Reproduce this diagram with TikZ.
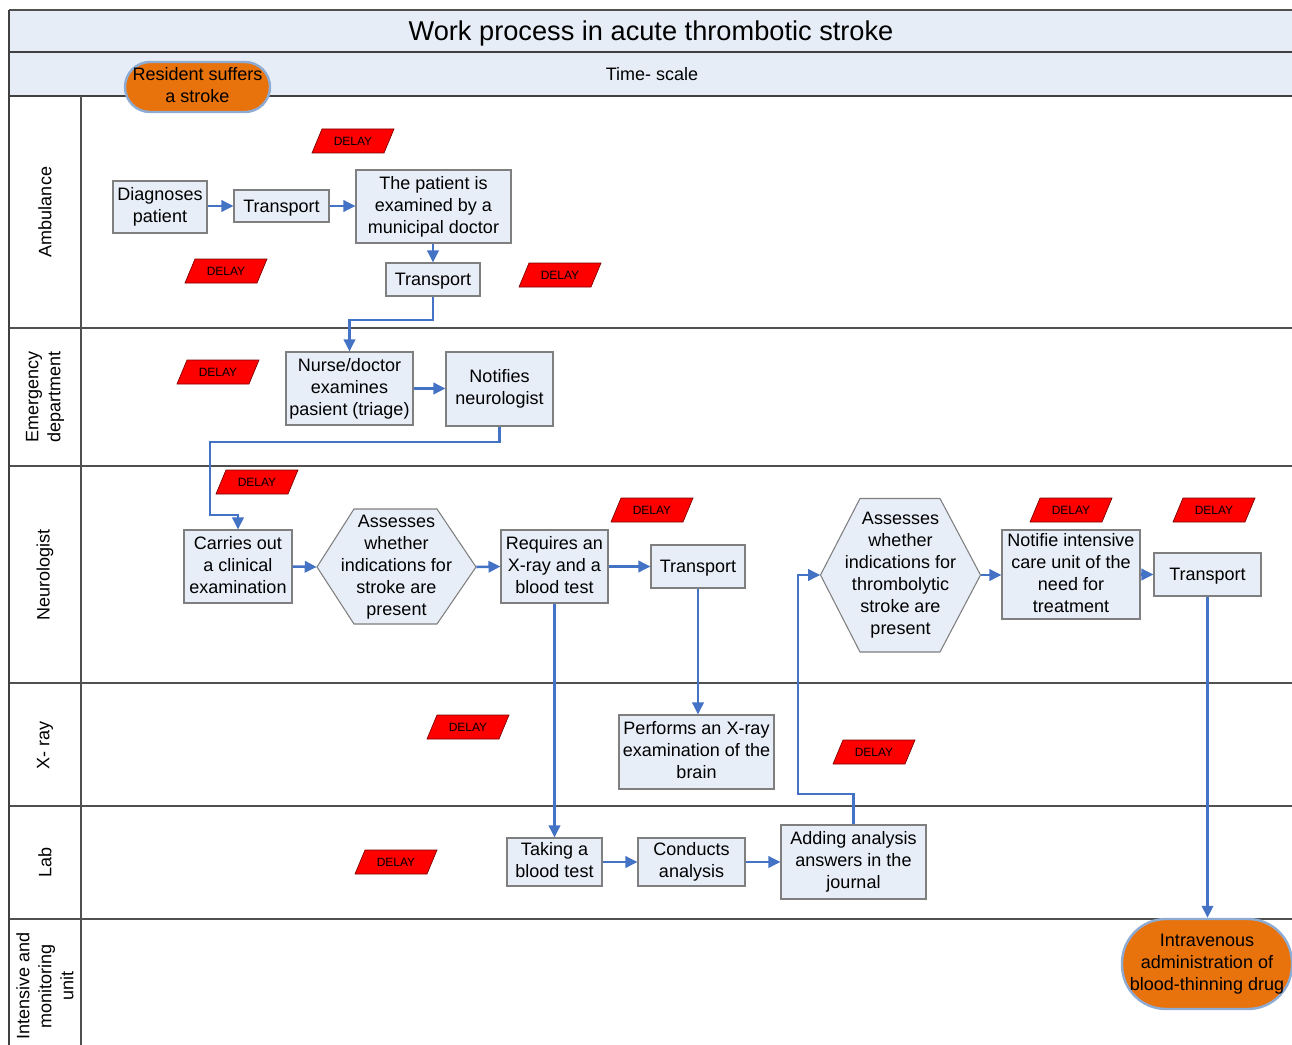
\documentclass[tikz,border=0pt]{standalone}
\usepackage{fontspec}
\setmainfont{Liberation Sans}
\usetikzlibrary{arrows.meta,calc}
\definecolor{bandfill}{HTML}{E7EDF7}
\definecolor{boxfill}{HTML}{E8EEF8}
\definecolor{boxline}{HTML}{7F7F7F}
\definecolor{flowblue}{HTML}{4472C4}
\definecolor{termorange}{HTML}{E8720C}
\definecolor{termline}{HTML}{8EACD3}
\definecolor{laneline}{HTML}{505050}
\definecolor{delayred}{HTML}{FF0000}
\definecolor{delayline}{HTML}{7A0000}
\newcommand{\topstrut}{\rule{0pt}{0.905em}}
\newcommand{\botstrut}{\rule[-0.212em]{0pt}{0.212em}}
\begin{document}
\begin{tikzpicture}[x=0.75pt,y=-0.75pt,
  txt/.style={font=\fontsize{13.5}{16.5}\selectfont, align=center,
    execute at begin node=\topstrut, execute at end node=\botstrut},
  box/.style={txt, draw=boxline, fill=boxfill, line width=0.8pt, inner sep=0pt},
  hexlbl/.style={txt, inner sep=0pt},
  hexshape/.style={draw=boxline, fill=boxfill, line width=0.8pt},
  term/.style={txt, draw=termline, fill=termorange, line width=1.8pt, inner sep=0pt},
  flow/.style={draw=flowblue, line width=1.9pt, -{Triangle[length=9pt,width=8.5pt]}},
  lane/.style={draw=laneline, line width=0.8pt},
  thick lane/.style={draw=laneline!80!black, line width=1.3pt},
  lanelbl/.style={font=\fontsize{13.5}{16.5}\selectfont, align=center, rotate=90},
  delayshape/.style={draw=delayline, fill=delayred, line width=0.5pt},
  delaytxt/.style={font=\fontsize{9}{10}\selectfont, inner sep=0pt},
  pics/delay/.style={code={
    \draw[delayshape] (-41,12) -- (31,12) -- (41,-12) -- (-31,-12) -- cycle;
    \node[delaytxt] (-lbl) at (0,0) {DELAY};
  }}
]
\useasboundingbox (0,0) rectangle (1292,1045);

% bands
\fill[bandfill] (9,10) rectangle (1292,96);
\draw[lane] (9,10) -- (1292,10);
\draw[thick lane] (9,52) -- (1292,52);
\draw[thick lane] (9,96) -- (1292,96);
\foreach \yy in {328,466,683,806,919} { \draw[lane] (9,\yy) -- (1292,\yy); }
\draw[thick lane] (9,10) -- (9,1045);
\draw[lane] (81,96) -- (81,1045);

\node[font=\fontsize{20.4}{24}\selectfont, execute at begin node=\topstrut, execute at end node=\botstrut] (title) at (651,31) {Work process in acute thrombotic stroke};
\node[txt] (timescale) at (652,74) {Time- scale};

% lane labels
\node[lanelbl] (lamb) at (45,212) {Ambulance};
\node[lanelbl] (led) at (45,397) {Emergency\\department};
\node[lanelbl] (lneu) at (45,575) {Neurologist};
\node[lanelbl] (lxr) at (45,745) {X- ray};
\node[lanelbl] (llab) at (45,862) {Lab};
\node[lanelbl] (licu) at (45,986) {Intensive and\\monitoring\\unit};

% terminals
\node[term, minimum width=108.75pt, minimum height=37.5pt, rounded corners=18.75pt] (start) at (197.5,87) {Resident suffers\\a stroke};
\node[term, minimum width=127.5pt, minimum height=67.5pt, rounded corners=33pt] (iv) at (1207,964) {Intravenous\\administration of\\blood-thinning drug};

% boxes
\node[box, minimum width=70.5pt, minimum height=39pt] (diag) at (160,207) {Diagnoses\\patient};
\node[box, minimum width=71.25pt, minimum height=24pt] (tr1) at (281.5,206) {Transport};
\node[box, minimum width=116.25pt, minimum height=54.75pt] (exam) at (433.5,206.5) {The patient is\\examined by a\\municipal doctor};
\node[box, minimum width=70.5pt, minimum height=24.75pt] (tr2) at (433,279.5) {Transport};
\node[box, minimum width=95.25pt, minimum height=54.75pt] (nurse) at (349.5,388.5) {Nurse/doctor\\examines\\pasient (triage)};
\node[box, minimum width=80.25pt, minimum height=55.5pt] (notif) at (499.5,389) {Notifies\\neurologist};
\node[box, minimum width=81pt, minimum height=54.75pt] (carr) at (238,566.5) {Carries out\\a clinical\\examination};
\node[box, minimum width=80.25pt, minimum height=54.75pt] (req) at (554.5,566.5) {Requires an\\X-ray and a\\blood test};
\node[box, minimum width=70.5pt, minimum height=32.25pt] (tr3) at (698,566.5) {Transport};
\node[box, minimum width=116.25pt, minimum height=55.5pt] (perf) at (696.5,752) {Performs an X-ray\\examination of the\\brain};
\node[box, minimum width=103.5pt, minimum height=66.75pt] (icu) at (1071,574.5) {Notifie intensive\\care unit of the\\need for\\treatment};
\node[box, minimum width=80.25pt, minimum height=32.25pt] (tr4) at (1207.5,574.5) {Transport};
\node[box, minimum width=71.25pt, minimum height=36pt] (take) at (554.5,862) {Taking a\\blood test};
\node[box, minimum width=80.25pt, minimum height=36pt] (cond) at (691.5,862) {Conducts\\analysis};
\node[box, minimum width=108.75pt, minimum height=55.5pt] (add) at (853.5,862) {Adding analysis\\answers in the\\journal};

% hexagons
\draw[hexshape] (317,567) -- (354,509) -- (437,509) -- (476,567) -- (437,624) -- (354,624) -- cycle;
\node[hexlbl, minimum width=119.25pt, minimum height=86.25pt] (hex1) at (396.5,567) {Assesses\\whether\\indications for\\stroke are\\present};
\draw[hexshape] (820.5,575) -- (860,498.5) -- (940,498.5) -- (980.5,575) -- (940,652) -- (860,652) -- cycle;
\node[hexlbl, minimum width=120pt, minimum height=115.5pt] (hex2) at (900.5,575) {Assesses\\whether\\indications for\\thrombolytic\\stroke are\\present};

% delays
\pic (d1) at (353,141) {delay};
\pic (d2) at (226,271) {delay};
\pic (d3) at (560,275) {delay};
\pic (d4) at (218,372) {delay};
\pic (d5) at (257,482) {delay};
\pic (d6) at (652,510) {delay};
\pic (d7) at (1071,510) {delay};
\pic (d8) at (1214,510) {delay};
\pic (d9) at (468,727) {delay};
\pic (d10) at (874,752) {delay};
\pic (d11) at (396,862) {delay};

% connectors
\coordinate (k0) at (433,320);
\coordinate (k1) at (210,442);
\coordinate (k2) at (210,515);
\coordinate (k3) at (798,794);
\draw[flow] (diag.east |- tr1.east) -- (tr1.west);
\draw[flow] (tr1.east) -- (exam.west |- tr1.east);
\draw[flow] (exam.south -| tr2.north) -- (tr2.north);
\draw[flow] (tr2.south) -- (k0) -| (nurse.north);
\draw[flow] (nurse.east) -- (notif.west |- nurse.east);
\draw[flow] (notif.south) |- (k1) -- (k2) -| (carr.north);
\draw[flow] (carr.east) -- (hex1.west);
\draw[flow] (hex1.east) -- (req.west);
\draw[flow] (req.east) -- (tr3.west);
\draw[flow] (tr3.south) -- (tr3.south |- perf.north);
\draw[flow] (req.south) -- (take.north);
\draw[flow] (take.east) -- (cond.west);
\draw[flow] (cond.east) -- (add.west);
\draw[flow] (add.north) |- (k3) |- (hex2.west);
\draw[flow] (hex2.east) -- (icu.west |- hex2.east);
\draw[flow] (icu.east) -- (tr4.west);
\draw[flow] (tr4.south) -- (tr4.south |- iv.north);
\end{tikzpicture}
\end{document}
